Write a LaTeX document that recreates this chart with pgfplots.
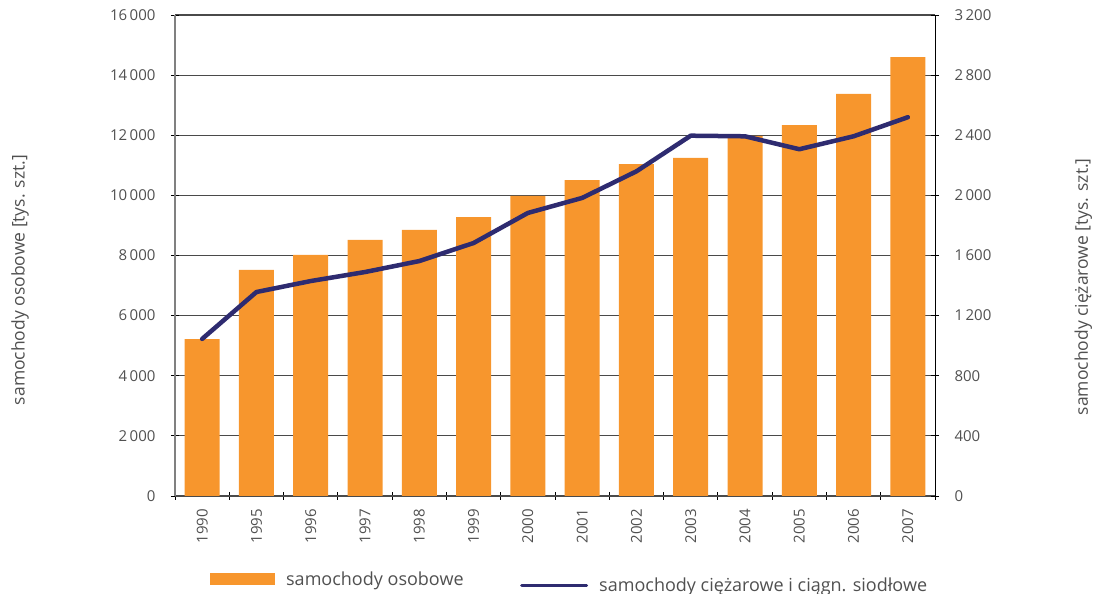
\documentclass[border=0pt]{standalone}
\usepackage{fontspec}
\setmainfont{Open Sans}
\usepackage{pgfplots}
\usepackage{pgfplotstable}
\pgfplotsset{compat=1.18}
\definecolor{barorange}{HTML}{F7962D}
\definecolor{linenavy}{HTML}{2E2B70}
\definecolor{txtgray}{HTML}{505050}
\definecolor{gridgray}{HTML}{4A4A4A}

\pgfplotstableread{
x year osob cier
0 1990 5220 1045
1 1995 7520 1357
2 1996 8020 1430
3 1997 8520 1490
4 1998 8850 1563
5 1999 9280 1683
6 2000 9980 1883
7 2001 10510 1983
8 2002 11040 2160
9 2003 11250 2397
10 2004 11980 2393
11 2005 12340 2307
12 2006 13380 2393
13 2007 14600 2520
}\datatable

\pgfplotsset{
  commonaxis/.style={
    at={(175pt,98pt)}, anchor=south west,
    scale only axis, width=760pt, height=481pt,
    xmin=-0.5, xmax=13.5, ymin=0,
    scaled ticks=false,
    tick label style={font=\fontsize{15}{17}\selectfont, text=txtgray},
    label style={font=\fontsize{17.5}{20}\selectfont, text=txtgray},
    yticklabel style={/pgf/number format/.cd, 1000 sep={\,}, assume math mode=true},
    tick align=center,
    major tick length=8pt,
    y tick style={draw=black, line width=0.8pt},
  },
}

\begin{document}
\begin{tikzpicture}
\useasboundingbox (0,0) rectangle (1093pt,594pt);
\begin{axis}[
  commonaxis,
  ymax=16000,
  axis x line*=bottom, axis y line*=left,
  x axis line style={draw=gridgray, line width=1.2pt, -},
  y axis line style={draw=gray, line width=1.8pt, -},
  xtick={0,...,13},
  xticklabels={1990,1995,1996,1997,1998,1999,2000,2001,2002,2003,2004,2005,2006,2007},
  xticklabel style={rotate=90, anchor=east, inner sep=0pt},
  xticklabel shift=9pt,
  major x tick style={draw=none},
  minor xtick={-0.5,0.5,...,13.5},
  minor x tick style={draw=black, line width=0.8pt},
  minor tick length=8pt,
  ytick={0,2000,...,16000},
  yticklabel shift=12pt,
  ymajorgrids,
  grid style={draw=gridgray, line width=1.2pt},
  ylabel={samochody osobowe [tys. szt.]},
  ylabel style={at={(axis description cs:-0.204,0.449)}, anchor=center},
  legend style={at={(axis description cs:0.046,-0.1726)}, anchor=west,
    draw=none, fill=none, inner sep=0pt,
    font=\fontsize{18}{20}\selectfont, text=txtgray,
    nodes={inner ysep=4pt, inner xsep=11pt}},
]
\addplot[ybar, bar width=35pt, bar shift=0pt, fill=barorange, draw=none,
  legend image code/.code={\fill[barorange] (0pt,-6pt) rectangle (65pt,6pt);}]
  table[x=x, y=osob] {\datatable};
\addlegendentry{samochody osobowe}
\end{axis}
\begin{axis}[
  commonaxis,
  ymax=3200,
  axis x line=none,
  axis y line*=right,
  y axis line style={draw=black, line width=1pt, -},
  ytick={0,400,...,3200},
  yticklabel shift=12pt,
  ylabel={samochody ciężarowe [tys. szt.]},
  ylabel style={at={(axis description cs:1.195,0.435)}, anchor=center},
  legend style={at={(axis description cs:0.454,-0.186)}, anchor=west,
    draw=none, fill=none, inner sep=0pt,
    font=\fontsize{18}{20}\selectfont, text=txtgray,
    nodes={inner ysep=4pt, inner xsep=11pt}},
]
\addplot[linenavy, line width=4.5pt, line join=round, line cap=round,
  legend image code/.code={\draw[linenavy, line width=3pt] (0pt,0pt) -- (65pt,0pt);}]
  table[x=x, y=cier] {\datatable};
\addlegendentry{samochody ciężarowe i ciągn. siodłowe}
\end{axis}
\end{tikzpicture}
\end{document}
